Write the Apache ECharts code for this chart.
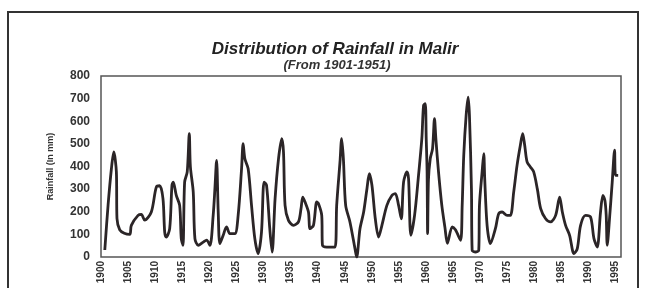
<!DOCTYPE html>
<html>
<head>
<meta charset="utf-8">
<script src="https://cdn.jsdelivr.net/npm/echarts@6/dist/echarts.min.js"></script>
<style>
  html, body { margin: 0; padding: 0; background: #fff; }
  #main { width: 647px; height: 288px; }
</style>
</head>
<body>
<div id="main"></div>
<script>
var chartDom = document.getElementById('main');
var myChart = echarts.init(chartDom);
var option;

// traced points, year (fractional) and rainfall in mm
var years = [
  1900.70, 1901.31, 1901.92, 1902.36, 1902.84, 1902.95, 1903.46, 1904.30, 1905.31, 1905.60,
  1906.84, 1907.45, 1908.07, 1909.29, 1910.21, 1910.84, 1911.44, 1911.76, 1912.05, 1912.68,
  1913.10, 1913.34, 1913.90, 1914.52, 1914.82, 1915.13, 1915.44, 1915.92, 1916.30, 1916.50,
  1917.03, 1917.34, 1917.95, 1918.87, 1919.50, 1920.11, 1920.71, 1921.03, 1921.34, 1921.64,
  1921.95, 1922.56, 1923.18, 1923.79, 1924.71, 1925.32, 1925.95, 1926.24, 1926.56, 1927.17,
  1927.79, 1928.40, 1929.01, 1929.63, 1930.11, 1930.56, 1931.16, 1931.59, 1932.14, 1932.77,
  1933.38, 1933.69, 1933.98, 1934.61, 1935.53, 1936.45, 1936.93, 1937.25, 1937.67, 1938.30,
  1938.59, 1939.22, 1939.83, 1940.14, 1940.75, 1940.88, 1941.67, 1943.20, 1943.51, 1944.12,
  1944.43, 1944.75, 1945.17, 1945.96, 1946.89, 1947.20, 1947.81, 1948.49, 1949.10, 1949.54,
  1950.02, 1950.64, 1951.25, 1951.86, 1952.78, 1953.70, 1954.33, 1954.94, 1955.44, 1955.86,
  1956.47, 1956.78, 1957.21, 1957.89, 1958.62, 1959.23, 1959.55, 1959.86, 1960.04, 1960.20,
  1960.30, 1960.45, 1960.78, 1961.21, 1961.57, 1961.82, 1962.31, 1962.92, 1963.50, 1963.95,
  1964.84, 1965.44, 1966.37, 1966.68, 1966.97, 1967.41, 1967.78, 1968.02, 1968.39, 1968.52,
  1969.13, 1969.74, 1969.87, 1970.36, 1970.66, 1970.84, 1971.28, 1971.89, 1972.81, 1973.42,
  1974.05, 1974.97, 1975.58, 1976.19, 1976.81, 1977.42, 1977.85, 1978.22, 1978.66, 1979.27,
  1979.88, 1980.56, 1981.17, 1982.09, 1983.01, 1983.93, 1984.67, 1985.17, 1985.77, 1986.51,
  1987.32, 1987.93, 1988.54, 1989.46, 1990.38, 1991.01, 1991.61, 1992.22, 1992.66, 1993.03,
  1993.27, 1993.46, 1993.88, 1994.38, 1994.81, 1995.00, 1995.48
];
var rainfall = [
  31, 230, 390, 464, 375, 170, 120, 105, 100, 140,
  184, 188, 163, 199, 309, 315, 258, 110, 88, 125,
  317, 331, 272, 228, 81, 52, 331, 376, 545, 400,
  287, 81, 52, 66, 75, 52, 184, 302, 427, 199,
  59, 96, 133, 103, 103, 184, 390, 501, 434, 390,
  228, 81, 15, 110, 331, 317, 125, 22, 258, 434,
  523, 464, 228, 162, 140, 155, 214, 265, 243, 199,
  125, 140, 243, 236, 184, 52, 44, 44, 228, 420,
  523, 434, 228, 155, 37, 0, 125, 199, 302, 368,
  317, 169, 88, 140, 228, 272, 280, 228, 169, 331,
  376, 346, 96, 184, 361, 523, 670, 678, 523, 380,
  103, 340, 434, 479, 611, 523, 376, 228, 130, 60,
  133, 120, 74, 228, 450, 626, 707, 626, 302, 30,
  22, 30, 228, 376, 457, 346, 140, 59, 125, 191,
  199, 184, 184, 287, 405, 494, 545, 494, 420, 398,
  376, 300, 214, 169, 155, 184, 265, 199, 140, 96,
  15, 37, 140, 184, 177, 81, 44, 199, 272, 250,
  184, 52, 169, 331, 472, 361, 361
];

var yTicks = [0, 100, 200, 300, 400, 500, 600, 700, 800];
var titleText = 'Distribution of Rainfall in Malir';
var subText = '(From 1901-1951)';

var seriesData = [];
for (var i = 0; i < years.length; i++) {
    seriesData.push([years[i], rainfall[i]]);
}

var font = '"Liberation Sans", Arial, sans-serif';

option = {
    animation: false,
    backgroundColor: '#fff',
    title: [
        {
            text: titleText,
            left: 330,
            top: 36,
            textAlign: 'center',
            textStyle: { fontFamily: font, fontSize: 17, fontWeight: 'bold', fontStyle: 'italic', color: '#222' }
        },
        {
            text: subText,
            left: 332,
            top: 54,
            textAlign: 'center',
            textStyle: { fontFamily: font, fontSize: 13, fontWeight: 'bold', fontStyle: 'italic', color: '#333' }
        }
    ],
    graphic: [
        {
            type: 'polyline',
            shape: { points: [[8, 300], [8, 12], [638, 12], [638, 300]] },
            style: { stroke: '#333', lineWidth: 2, fill: null }
        }
    ],
    grid: {
        left: 101,
        right: 26,
        top: 76,
        bottom: 31,
        show: true,
        borderColor: '#555',
        borderWidth: 1.5
    },
    xAxis: {
        type: 'value',
        min: 1900,
        max: 1996,
        interval: 5,
        splitLine: { show: false },
        axisLine: { show: false },
        axisTick: { show: false },
        axisLabel: {
            rotate: 90,
            margin: 4,
            showMaxLabel: false,
            fontFamily: font,
            fontSize: 10,
            fontWeight: 'bold',
            color: '#333',
            formatter: function (v) { return v % 5 === 0 ? String(v) : ''; }
        }
    },
    yAxis: {
        type: 'value',
        min: yTicks[0],
        max: yTicks[yTicks.length - 1],
        interval: 100,
        name: 'Rainfall (In mm)',
        nameLocation: 'middle',
        nameGap: 46,
        nameTextStyle: { fontFamily: font, fontSize: 9, fontWeight: 'bold', color: '#333' },
        splitLine: { show: false },
        axisLine: { show: false },
        axisTick: { show: false },
        axisLabel: {
            margin: 11,
            fontFamily: font,
            fontSize: 12,
            fontWeight: 'bold',
            color: '#333'
        }
    },
    series: [
        {
            type: 'line',
            data: seriesData,
            showSymbol: false,
            smooth: 0.3,
            lineStyle: { color: '#2b2527', width: 2.8 }
        }
    ]
};

option && myChart.setOption(option);
</script>
</body>
</html>
